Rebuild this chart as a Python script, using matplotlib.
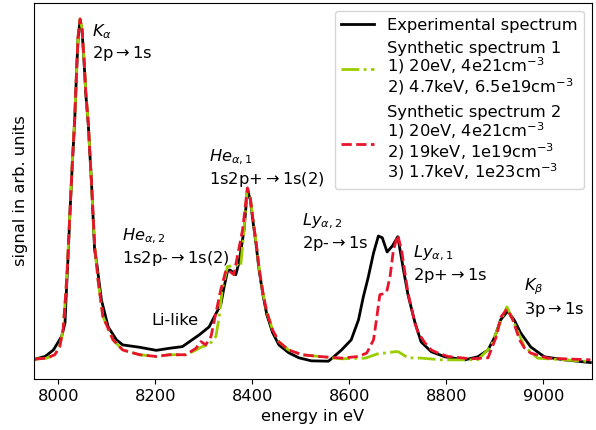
import matplotlib
matplotlib.use("Agg")
import matplotlib.pyplot as plt

plt.rcParams["font.size"] = 11.7

# Experimental spectrum (energy in eV, signal in arb. units)
exp_energy = [7952, 7973, 7990, 8007, 8014, 8016, 8020, 8024, 8029, 8034,
              8038, 8041, 8045, 8049, 8053, 8057, 8062, 8069, 8075, 8079,
              8089, 8103, 8120, 8133, 8168, 8202, 8229, 8256, 8291, 8311,
              8325, 8335, 8342, 8349, 8354, 8366, 8373, 8383, 8390, 8396,
              8401, 8408, 8414, 8422, 8430, 8442, 8455, 8475, 8496, 8522,
              8557, 8563, 8584, 8604, 8619, 8629, 8639, 8650, 8660, 8668,
              8678, 8689, 8700, 8711, 8721, 8735, 8748, 8769, 8797, 8838,
              8865, 8886, 8900, 8912, 8927, 8941, 8953, 8974, 9002, 9043, 9097]
exp_signal = [0.002, 0.010, 0.029, 0.069, 0.109, 0.177, 0.295, 0.427, 0.575, 0.707,
              0.855, 0.949, 0.999, 0.973, 0.884, 0.781, 0.693, 0.510, 0.324, 0.289,
              0.177, 0.097, 0.059, 0.044, 0.037, 0.028, 0.034, 0.039, 0.074, 0.097,
              0.136, 0.162, 0.215, 0.262, 0.265, 0.251, 0.289, 0.383, 0.501, 0.472,
              0.413, 0.339, 0.265, 0.192, 0.133, 0.080, 0.044, 0.021, 0.006, -0.003,
              -0.004, 0.003, 0.029, 0.059, 0.118, 0.186, 0.243, 0.315, 0.365, 0.360,
              0.318, 0.336, 0.363, 0.271, 0.192, 0.112, 0.053, 0.024, 0.009, 0.000,
              0.009, 0.029, 0.068, 0.118, 0.144, 0.115, 0.080, 0.038, 0.009, 0.000, -0.008]

# Synthetic spectrum 1
syn1_energy = [7952, 7976, 7993, 8003, 8010, 8016, 8020, 8024, 8029, 8034,
               8038, 8041, 8045, 8049, 8053, 8057, 8062, 8069, 8075, 8082,
               8092, 8113, 8133, 8168, 8202, 8229, 8263, 8284, 8297, 8311,
               8325, 8332, 8338, 8349, 8358, 8369, 8376, 8382, 8390, 8396,
               8401, 8408, 8414, 8422, 8430, 8442, 8455, 8475, 8503, 8537,
               8584, 8633, 8653, 8663, 8674, 8694, 8701, 8721, 8749, 8790,
               8865, 8892, 8913, 8925, 8940, 8961, 8988, 9097]
syn1_signal = [0.002, 0.005, 0.015, 0.039, 0.088, 0.206, 0.309, 0.433, 0.581, 0.713,
               0.861, 0.955, 1.005, 0.978, 0.890, 0.787, 0.696, 0.510, 0.339, 0.236,
               0.128, 0.059, 0.029, 0.015, 0.010, 0.015, 0.015, 0.029, 0.039, 0.044,
               0.069, 0.128, 0.206, 0.275, 0.277, 0.280, 0.275, 0.368, 0.510, 0.477,
               0.419, 0.345, 0.271, 0.197, 0.141, 0.088, 0.053, 0.029, 0.015, 0.010,
               0.003, 0.005, 0.015, 0.020, 0.020, 0.024, 0.024, 0.006, 0.005, 0.000,
               0.000, 0.039, 0.118, 0.156, 0.108, 0.039, 0.005, -0.005]

# Synthetic spectrum 2
syn2_energy = [7952, 7976, 7993, 8003, 8010, 8016, 8020, 8024, 8029, 8034,
               8038, 8041, 8045, 8049, 8053, 8057, 8062, 8069, 8075, 8082,
               8092, 8113, 8133, 8168, 8202, 8229, 8263, 8284, 8294, 8304,
               8315, 8325, 8335, 8345, 8350, 8362, 8380, 8390, 8396, 8401,
               8408, 8414, 8422, 8430, 8442, 8455, 8475, 8503, 8537, 8585,
               8619, 8636, 8650, 8656, 8663, 8670, 8677, 8684, 8691, 8700,
               8708, 8721, 8735, 8742, 8756, 8769, 8783, 8803, 8851, 8886,
               8894, 8903, 8913, 8925, 8937, 8951, 8961, 8974, 9009, 9097]
syn2_signal = [0.002, 0.005, 0.015, 0.039, 0.088, 0.206, 0.309, 0.433, 0.581, 0.713,
               0.861, 0.955, 1.005, 0.978, 0.890, 0.787, 0.696, 0.510, 0.339, 0.236,
               0.128, 0.059, 0.029, 0.015, 0.010, 0.015, 0.015, 0.034, 0.054, 0.044,
               0.069, 0.138, 0.206, 0.260, 0.265, 0.251, 0.383, 0.507, 0.477, 0.419,
               0.345, 0.271, 0.197, 0.141, 0.088, 0.053, 0.029, 0.015, 0.010, 0.005,
               0.010, 0.020, 0.059, 0.118, 0.192, 0.195, 0.200, 0.245, 0.324, 0.368,
               0.321, 0.197, 0.109, 0.080, 0.050, 0.029, 0.020, 0.010, 0.003, 0.006,
               0.035, 0.068, 0.127, 0.150, 0.118, 0.059, 0.035, 0.020, 0.005, 0.000]

label_exp = "Experimental spectrum"
label_syn1 = ("Synthetic spectrum 1\n1) 20eV, 4e21cm$^{-3}$\n"
              "2) 4.7keV, 6.5e19cm$^{-3}$")
label_syn2 = ("Synthetic spectrum 2\n1) 20eV, 4e21cm$^{-3}$\n"
              "2) 19keV, 1e19cm$^{-3}$\n3) 1.7keV, 1e23cm$^{-3}$")

# line annotations: (energy, signal, text)
annotations = [
    (8069, 0.996, "$K_\\alpha$\n2p$\\rightarrow$1s"),
    (8311, 0.625, "$He_{\\alpha,1}$\n1s2p+$\\rightarrow$1s(2)"),
    (8132, 0.392, "$He_{\\alpha,2}$\n1s2p-$\\rightarrow$1s(2)"),
    (8191, 0.139, "Li-like"),
    (8502, 0.436, "$Ly_{\\alpha,2}$\n2p-$\\rightarrow$1s"),
    (8732, 0.342, "$Ly_{\\alpha,1}$\n2p+$\\rightarrow$1s"),
    (8960, 0.245, "$K_\\beta$\n3p$\\rightarrow$1s"),
]

fig = plt.figure(figsize=(5.96, 4.30), dpi=100)
ax = fig.add_axes([0.057, 0.119, 0.936, 0.874])

ax.plot(exp_energy, exp_signal, color="black", linewidth=2, label=label_exp)
ax.plot(syn1_energy, syn1_signal, color="#9acd00", linestyle="-.", linewidth=2,
        label=label_syn1)
ax.plot(syn2_energy, syn2_signal, color="#e8142c", linestyle="--", linewidth=2,
        label=label_syn2)

for x, y, txt in annotations:
    ax.text(x, y, txt, ha="left", va="top")

ax.set_xlim(7950, 9100)
ax.set_ylim(-0.056, 1.052)
ax.set_xticks([8000, 8200, 8400, 8600, 8800, 9000])
ax.set_yticks([])
ax.set_xlabel("energy in eV")
ax.set_ylabel("signal in arb. units")

leg = ax.legend(loc="upper right")
# tighter rows inside the multi-line legend entries
for t in leg.get_texts():
    t.set_linespacing(1.0)

fig.savefig("out.png", dpi=100)
